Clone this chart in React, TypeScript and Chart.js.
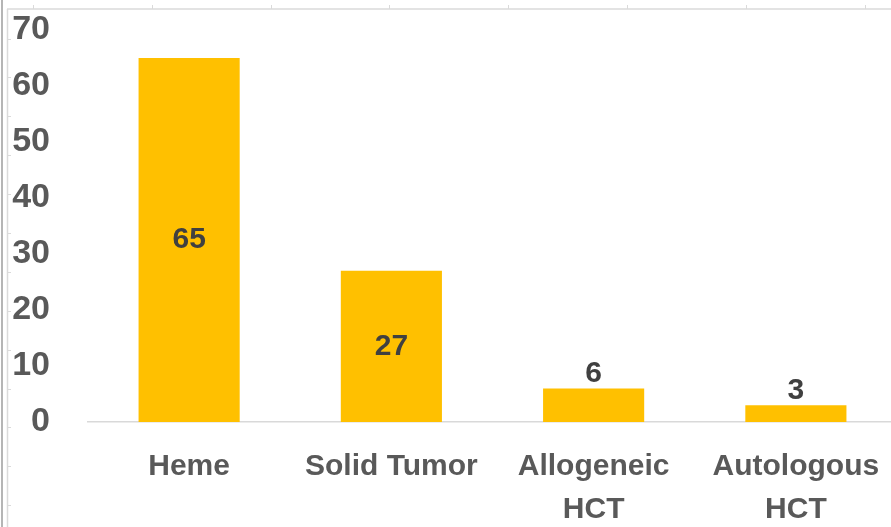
import React, { useEffect, useRef } from "react";
import { Chart, registerables } from "chart.js";

Chart.register(...registerables);

const categories: (string | string[])[] = ["Heme", "Solid Tumor", ["Allogeneic", "HCT"], ["Autologous", "HCT"]];
const values: number[] = [65, 27, 6, 3];
const yMin = 0;
const yMax = 70;
const yStep = 10;

const FONT = "'Liberation Sans', Arial, sans-serif";

const framePlugin = {
  id: "frame",
  beforeDraw(chart: any) {
    const ctx = chart.ctx;
    ctx.save();
    ctx.strokeStyle = "#b5b5b5";
    ctx.lineWidth = 2;
    ctx.beginPath();
    ctx.moveTo(2, 0);
    ctx.lineTo(2, chart.height);
    ctx.stroke();
    ctx.strokeStyle = "#dadada";
    ctx.lineWidth = 1.5;
    ctx.beginPath();
    ctx.moveTo(7.5, 9);
    ctx.lineTo(7.5, chart.height);
    ctx.stroke();
    ctx.beginPath();
    ctx.moveTo(7, 9);
    ctx.lineTo(chart.width, 9);
    ctx.stroke();
    ctx.lineWidth = 1;
    for (let x = 33; x < chart.width; x += 118.8) {
      ctx.beginPath();
      ctx.moveTo(Math.round(x) + 0.5, 5);
      ctx.lineTo(Math.round(x) + 0.5, 9);
      ctx.stroke();
    }
    for (let y = 38.5; y < chart.height; y += 38.9) {
      ctx.beginPath();
      ctx.moveTo(7, Math.round(y) + 0.5);
      ctx.lineTo(11, Math.round(y) + 0.5);
      ctx.stroke();
    }
    ctx.restore();
  },
};

const labelPlugin = {
  id: "barLabels",
  afterDatasetsDraw(chart: any) {
    const ctx = chart.ctx;
    const meta = chart.getDatasetMeta(0);
    ctx.save();
    ctx.fillStyle = "#404040";
    ctx.font = `bold 30px ${FONT}`;
    ctx.textAlign = "center";
    meta.data.forEach((bar: any, i: number) => {
      const v = values[i];
      if (v >= 20) {
        ctx.textBaseline = "middle";
        ctx.fillText(String(v), bar.x, (bar.y + bar.base) / 2);
      } else {
        ctx.textBaseline = "alphabetic";
        ctx.fillText(String(v), bar.x, bar.y - 6);
      }
    });
    ctx.restore();
  },
};

export default function App() {
  const ref = useRef<HTMLCanvasElement | null>(null);

  useEffect(() => {
    if (!ref.current) return;
    const chart = new Chart(ref.current, {
      type: "bar",
      data: {
        labels: categories,
        datasets: [
          {
            data: values,
            backgroundColor: "#FFC000",
            barPercentage: 0.5,
            categoryPercentage: 1,
          },
        ],
      },
      options: {
        animation: false,
        responsive: false,
        layout: { padding: { top: 30, right: 3, left: 0, bottom: 0 } },
        plugins: { legend: { display: false }, tooltip: { enabled: false } },
        scales: {
          x: {
            grid: { display: false, drawTicks: false },
            border: { display: true, color: "#d9d9d9", width: 1.5 },
            ticks: {
              color: "#595959",
              font: { family: FONT, size: 30, weight: "bold", lineHeight: 1.43 },
              padding: 23,
              maxRotation: 0,
              autoSkip: false,
            },
            afterFit(scale: any) {
              scale.height = 105;
              scale.paddingLeft = 0;
              scale.paddingRight = 0;
            },
          },
          y: {
            min: yMin,
            max: yMax,
            grid: { display: false, drawTicks: false },
            border: { display: false },
            ticks: {
              stepSize: yStep,
              color: "#595959",
              font: { family: FONT, size: 34, weight: "bold" },
              padding: 38,
            },
            afterFit(scale: any) {
              scale.width = 88;
              scale.paddingTop = 0;
              scale.paddingBottom = 0;
            },
          },
        },
      },
      plugins: [framePlugin, labelPlugin],
    });
    return () => chart.destroy();
  }, []);

  return (
    <div style={{ position: "absolute", left: 0, top: 0, width: 891, height: 527, overflow: "hidden", background: "#fff" }}>
      <canvas ref={ref} width={900} height={527} style={{ width: 900, height: 527, display: "block" }} />
    </div>
  );
}
